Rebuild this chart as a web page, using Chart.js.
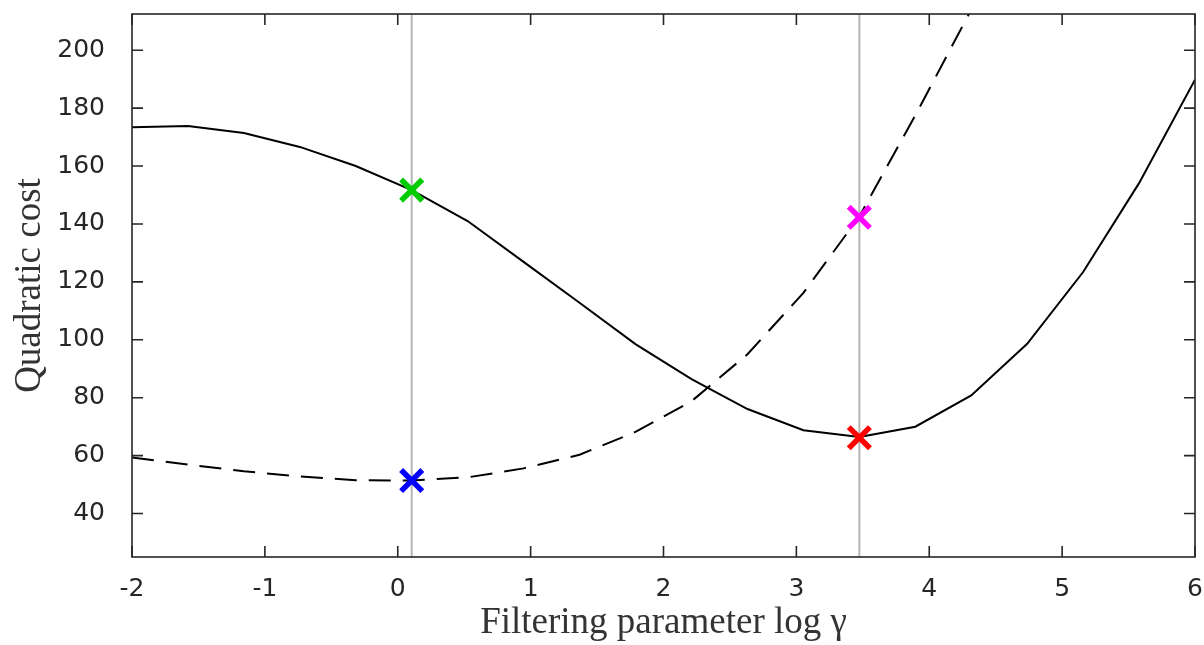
<!DOCTYPE html>
<html>
<head>
<meta charset="utf-8">
<title>Quadratic cost</title>
<script src="https://cdn.jsdelivr.net/npm/chart.js@4.4.0/dist/chart.umd.min.js"></script>
<style>
  body { margin: 0; background: #fff; }
  canvas { display: block; }
</style>
</head>
<body>
<canvas id="costChart" width="1204" height="645"></canvas>
<script>
// filtering parameter log(gamma), one value per curve sample
var logGamma = [-2, -1.579, -1.158, -0.737, -0.316, 0.105, 0.526, 0.947, 1.368, 1.789,
                2.211, 2.632, 3.053, 3.474, 3.895, 4.316, 4.737, 5.158, 5.579, 6];

// solid curve
var costSolid = [173.4, 173.8, 171.4, 166.6, 160.0, 151.7, 141.0, 126.9, 112.8, 98.5,
                 86.4, 76.1, 68.8, 66.4, 70.0, 80.8, 98.6, 123.4, 154.1, 189.8];

// dashed curve (last values leave the plot at the top)
var costDashed = [59.4, 56.9, 54.6, 52.8, 51.5, 51.4, 52.5, 55.6, 60.3, 68.2,
                  78.8, 95.0, 116.2, 142.6, 177.5, 214.0, 255.0];

// the two selected parameters (grey vertical lines) and the marked points
var selX = [0.105, 3.474];
var markX = [0.105, 0.105, 3.474, 3.474];
var markY = [151.7, 51.4, 142.3, 66.2];
var markColors = ['#00cc00', '#0000ff', '#ff00ff', '#ff0000'];

var xTicks = [-2, -1, 0, 1, 2, 3, 4, 5, 6];
var yTicks = [40, 60, 80, 100, 120, 140, 160, 180, 200];
var yMin = 25, yMax = 212.5;

var axisColor = '#262626';

function pts(xs, ys) {
	var out = [];
	for (var i = 0; i < ys.length; i++) out.push({x: xs[i], y: ys[i]});
	return out;
}

// no extra room for edge labels, the plot box is fixed by layout padding
function noPad(scale) {
	scale.paddingTop = 0;
	scale.paddingBottom = 0;
	scale.paddingLeft = 0;
	scale.paddingRight = 0;
}

// box around the plot with inward tick marks on all four sides
var boxPlugin = {
	id: 'box',
	afterDraw: function (chart) {
		var ctx = chart.ctx, a = chart.chartArea;
		var xs = chart.scales.x, ys = chart.scales.y;
		var len = 11;
		ctx.save();
		ctx.strokeStyle = axisColor;
		ctx.lineWidth = 1.6;
		ctx.beginPath();
		xTicks.forEach(function (v) {
			var px = xs.getPixelForValue(v);
			ctx.moveTo(px, a.bottom); ctx.lineTo(px, a.bottom - len);
			ctx.moveTo(px, a.top); ctx.lineTo(px, a.top + len);
		});
		yTicks.forEach(function (v) {
			var py = ys.getPixelForValue(v);
			ctx.moveTo(a.left, py); ctx.lineTo(a.left + len, py);
			ctx.moveTo(a.right, py); ctx.lineTo(a.right - len, py);
		});
		ctx.stroke();
		ctx.strokeRect(a.left, a.top, a.right - a.left, a.bottom - a.top);
		ctx.restore();
	}
};

var ctx = document.getElementById('costChart').getContext('2d');

new Chart(ctx, {
	type: 'line',
	data: {
		datasets: [
			{
				label: 'markers',
				data: pts(markX, markY),
				showLine: false,
				pointStyle: 'crossRot',
				pointRadius: 15,
				pointBorderWidth: 5.5,
				pointBorderColor: markColors,
				pointBackgroundColor: markColors,
				order: 0
			},
			{
				label: 'solid',
				data: pts(logGamma, costSolid),
				borderColor: '#000',
				borderWidth: 2,
				pointRadius: 0,
				tension: 0,
				order: 1
			},
			{
				label: 'dashed',
				data: pts(logGamma, costDashed),
				borderColor: '#000',
				borderWidth: 2,
				borderDash: [22, 12],
				pointRadius: 0,
				tension: 0,
				order: 1
			},
			{
				label: 'sel1',
				data: [{x: selX[0], y: yMin}, {x: selX[0], y: yMax}],
				borderColor: '#b5b5b5',
				borderWidth: 2,
				pointRadius: 0,
				order: 2
			},
			{
				label: 'sel2',
				data: [{x: selX[1], y: yMin}, {x: selX[1], y: yMax}],
				borderColor: '#b5b5b5',
				borderWidth: 2,
				pointRadius: 0,
				order: 2
			}
		]
	},
	options: {
		responsive: false,
		animation: false,
		devicePixelRatio: 1,
		layout: { autoPadding: false, padding: { top: 14, right: 9, left: 0, bottom: 0 } },
		plugins: {
			legend: { display: false },
			tooltip: { enabled: false }
		},
		scales: {
			x: {
				type: 'linear',
				min: -2,
				max: 6,
				grid: { display: false },
				border: { display: false },
				afterBuildTicks: function (scale) {
					scale.ticks = xTicks.map(function (v) { return {value: v}; });
				},
				afterFit: function (scale) { scale.height = 88; noPad(scale); },
				ticks: {
					padding: 9,
					color: axisColor,
					font: { family: 'DejaVu Sans', size: 25 },
					maxRotation: 0,
					callback: function (v) { return String(v); }
				},
				title: {
					display: true,
					text: 'Filtering parameter log γ',
					color: '#333',
					font: { family: 'Liberation Serif', size: 37 },
					padding: { top: 0, bottom: 0 }
				}
			},
			y: {
				type: 'linear',
				min: yMin,
				max: yMax,
				grid: { display: false },
				border: { display: false },
				afterBuildTicks: function (scale) {
					scale.ticks = yTicks.map(function (v) { return {value: v}; });
				},
				afterFit: function (scale) { scale.width = 132; noPad(scale); },
				ticks: {
					padding: 19,
					color: axisColor,
					font: { family: 'DejaVu Sans', size: 25 },
					callback: function (v) { return String(v); }
				},
				title: {
					display: true,
					text: 'Quadratic cost',
					color: '#333',
					font: { family: 'Liberation Serif', size: 37 },
					padding: { top: 8, bottom: 0 }
				}
			}
		}
	},
	plugins: [boxPlugin]
});
</script>
</body>
</html>
